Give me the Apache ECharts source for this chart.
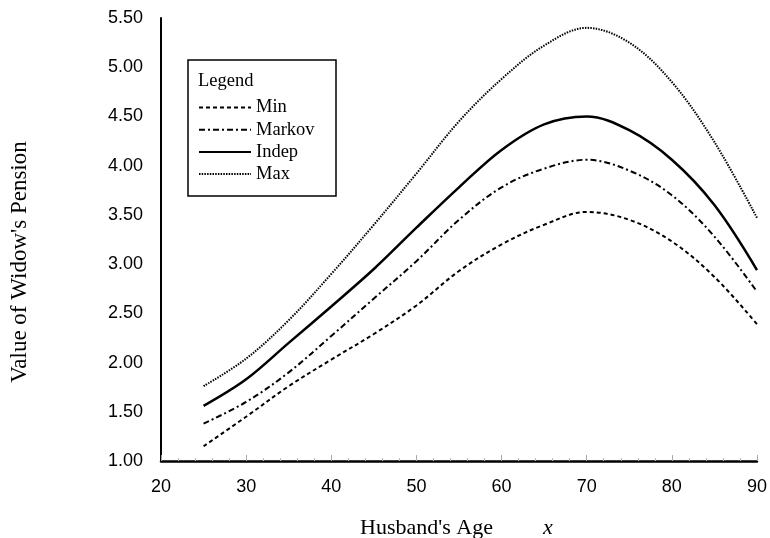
<!DOCTYPE html>
<html>
<head>
<meta charset="utf-8">
<script src="https://cdn.jsdelivr.net/npm/echarts@6/dist/echarts.min.js"></script>
<style>
  html, body { margin: 0; padding: 0; background: #fff; }
  #chart { width: 770px; height: 538px; }
</style>
</head>
<body>
<div id="chart"></div>
<script>
// husband's age x
const ages = [25, 30, 35, 40, 45, 50, 55, 60, 65, 70, 75, 80, 85, 90]

// value of widow's pension
const minValues    = [1.15, 1.45, 1.76, 2.03, 2.29, 2.58, 2.93, 3.20, 3.40, 3.53, 3.45, 3.23, 2.87, 2.39]
const markovValues = [1.38, 1.60, 1.90, 2.27, 2.65, 3.03, 3.45, 3.78, 3.97, 4.06, 3.95, 3.70, 3.28, 2.72]
const indepValues  = [1.56, 1.83, 2.20, 2.57, 2.95, 3.37, 3.78, 4.16, 4.42, 4.50, 4.36, 4.06, 3.60, 2.94]
const maxValues    = [1.76, 2.04, 2.43, 2.90, 3.40, 3.92, 4.45, 4.88, 5.22, 5.40, 5.25, 4.85, 4.24, 3.47]

const seriesNames = ['Min', 'Markov', 'Indep', 'Max']

const serif = 'Liberation Serif, Times New Roman, serif'
const sans = 'Liberation Sans, Arial, sans-serif'

const chart = echarts.init(document.getElementById('chart'))

const pairs = vals => ages.map((a, i) => [a, vals[i]])

const mkLine = (name, vals, width, type) => ({
  name,
  type: 'line',
  data: pairs(vals),
  smooth: 0.35,
  symbol: 'none',
  lineStyle: { color: '#000', width, type },
  itemStyle: { color: '#000' }
})

const option = {
  backgroundColor: '#fff',
  animation: false,
  grid: { left: 161, right: 13, top: 18, bottom: 77 },
  xAxis: {
    type: 'value',
    min: 20,
    max: 90,
    interval: 10,
    axisLine: { lineStyle: { color: '#000', width: 2.5 } },
    axisTick: { show: true, inside: true, length: 6, lineStyle: { color: '#aaa', width: 1 } },
    minorTick: { show: true, splitNumber: 5, length: 3, lineStyle: { color: '#bbb', width: 1 } },
    splitLine: { show: false },
    axisLabel: { color: '#000', fontFamily: sans, fontSize: 18, margin: 17 }
  },
  yAxis: {
    type: 'value',
    min: 1,
    max: 5.5,
    interval: 0.5,
    axisLine: { show: true, lineStyle: { color: '#000', width: 2 } },
    axisTick: { show: false },
    splitLine: { show: false },
    axisLabel: {
      color: '#000', fontFamily: sans, fontSize: 18, margin: 18,
      formatter: v => v.toFixed(2)
    }
  },
  legend: {
    data: seriesNames,
    orient: 'vertical',
    left: 198,
    top: 98,
    padding: 0,
    itemWidth: 52,
    itemHeight: 14,
    itemGap: 3.2,
    itemStyle: { opacity: 0 },
    textStyle: { color: '#000', fontFamily: serif, fontSize: 18.5 }
  },
  graphic: [
    {
      type: 'rect',
      z: 1,
      shape: { x: 188, y: 60, width: 148, height: 136 },
      style: { fill: '#fff', stroke: '#000', lineWidth: 1.5 }
    },
    {
      type: 'text',
      z: 5,
      left: 198,
      top: 72,
      style: { text: 'Legend', fill: '#000', font: '18.5px ' + serif }
    },
    {
      type: 'text',
      z: 5,
      x: 20,
      y: 262,
      rotation: Math.PI / 2,
      style: {
        text: "Value of Widow's Pension", fill: '#000', font: '23px ' + serif,
        align: 'center', verticalAlign: 'middle'
      }
    },
    {
      type: 'text',
      z: 5,
      left: 360,
      top: 517,
      style: { text: "Husband's Age", fill: '#000', font: '22px ' + serif }
    },
    {
      type: 'text',
      z: 5,
      left: 543,
      top: 517,
      style: { text: 'x', fill: '#000', font: 'italic 22px ' + serif }
    }
  ],
  series: [
    mkLine('Min', minValues, 2, [4, 3]),
    mkLine('Markov', markovValues, 2, [6, 3, 2, 3]),
    mkLine('Indep', indepValues, 2.5, 'solid'),
    mkLine('Max', maxValues, 2, [1.5, 1.2])
  ]
}

chart.setOption(option)
</script>
</body>
</html>
